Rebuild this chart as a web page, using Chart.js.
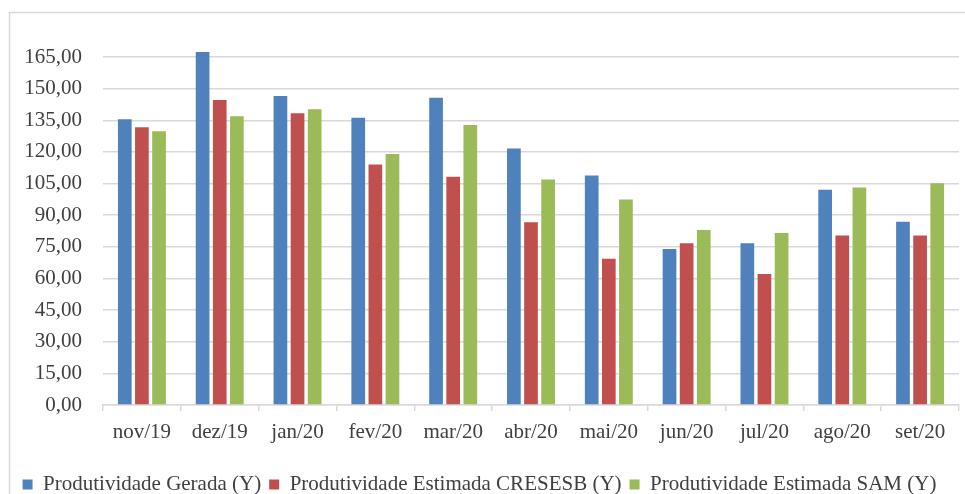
<!DOCTYPE html>
<html>
<head>
<meta charset="utf-8">
<script src="https://cdn.jsdelivr.net/npm/chart.js@4"></script>
<style>
  html, body { margin: 0; padding: 0; background: #fff; }
  #wrap { width: 965px; height: 494px; position: relative; }
</style>
</head>
<body>
<div id="wrap"><canvas id="chart1"></canvas></div>
<script>
// months on the x axis
const months = ['nov/19', 'dez/19', 'jan/20', 'fev/20', 'mar/20', 'abr/20',
    'mai/20', 'jun/20', 'jul/20', 'ago/20', 'set/20'];

// series values
const gerada = [135.5, 167.4, 146.5, 136.2, 145.7, 121.6, 108.9, 74.0, 76.7, 102.1, 86.9];
const cresesb = [131.7, 144.6, 138.4, 114.0, 108.2, 86.7, 69.4, 76.7, 62.1, 80.4, 80.4];
const sam = [129.8, 136.9, 140.3, 119.0, 132.8, 107.0, 97.5, 83.0, 81.6, 103.2, 105.2];

// y tick labels shown on the axis
const yTicks = [0, 15, 30, 45, 60, 75, 90, 105, 120, 135, 150, 165];
const yMax = 175;

const seriesNames = ['Produtividade Gerada (Y)', 'Produtividade Estimada CRESESB (Y)', 'Produtividade Estimada SAM (Y)'];
const seriesColors = ['#4F81BD', '#C0504D', '#9BBB59'];

const fontFamily = '"Liberation Serif", "DejaVu Serif", serif';
const fontSize = 21;

// light gray frame round the chart, like the spreadsheet export
const frame = {
    id: 'frame',
    beforeDraw(chart) {
        const ctx = chart.ctx;
        ctx.save();
        ctx.strokeStyle = '#d9d9d9';
        ctx.lineWidth = 1.5;
        ctx.strokeRect(9.5, 12.5, 1200, 1000);
        ctx.restore();
    }
};

function magicChart(target) {
    return new Chart(target, {
        type: 'bar',
        data: {
            labels: months,
            datasets: [gerada, cresesb, sam].map((values, i) => ({
                label: seriesNames[i],
                data: values,
                backgroundColor: seriesColors[i],
                borderWidth: 0,
                barPercentage: 0.8,
                categoryPercentage: 0.66
            }))
        },
        options: {
            responsive: true,
            maintainAspectRatio: false,
            animation: false,
            layout: { padding: { top: 36, right: 6, left: 0, bottom: -11 } },
            scales: {
                x: {
                    grid: {
                        display: true,
                        drawOnChartArea: false,
                        drawTicks: true,
                        tickLength: 6,
                        color: '#d9d9d9',
                        lineWidth: 1.5,
                        offset: true
                    },
                    border: { display: true, color: '#d9d9d9', width: 1.5 },
                    ticks: {
                        color: '#404040',
                        padding: 9,
                        font: { family: fontFamily, size: fontSize }
                    },
                    afterFit(scale) { scale.height = 61; }
                },
                y: {
                    min: 0,
                    max: yMax,
                    afterBuildTicks(scale) {
                        scale.ticks = yTicks.map(v => ({ value: v }));
                    },
                    grid: { color: '#d9d9d9', lineWidth: 1.5, drawTicks: false },
                    border: { display: false },
                    ticks: {
                        color: '#404040',
                        padding: 21,
                        font: { family: fontFamily, size: fontSize },
                        callback: v => v.toFixed(2).replace('.', ',')
                    },
                    afterFit(scale) { scale.width = 103; }
                }
            },
            plugins: {
                legend: {
                    display: true,
                    position: 'bottom',
                    labels: {
                        boxWidth: 10,
                        boxHeight: 10,
                        padding: 8,
                        color: '#404040',
                        font: { family: fontFamily, size: fontSize }
                    }
                },
                tooltip: { enabled: false }
            }
        },
        plugins: [frame]
    });
}

magicChart(document.getElementById('chart1').getContext('2d'));
</script>
</body>
</html>
